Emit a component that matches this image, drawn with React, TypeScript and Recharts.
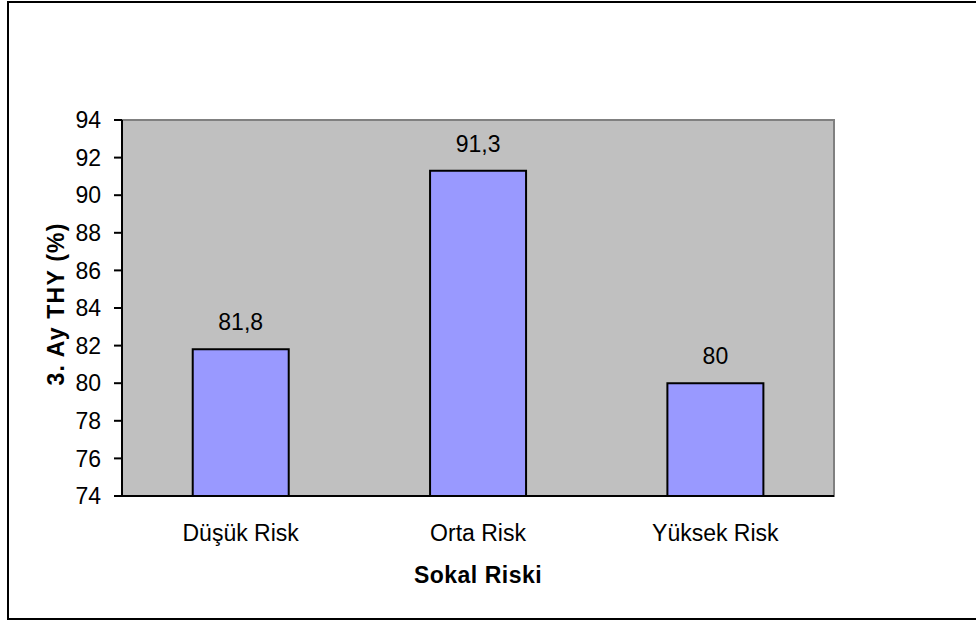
import {
  BarChart, Bar, XAxis, YAxis, ReferenceArea, LabelList,
} from "recharts";

const categories = ["Düşük Risk", "Orta Risk", "Yüksek Risk"];
const values = [81.8, 91.3, 80];
const yTicks = [74, 76, 78, 80, 82, 84, 86, 88, 90, 92, 94];
const edgeTicks = [0, 1, 2, 3];

const data = categories.map((name, i) => ({ name, value: values[i] }));

const font = "Arial, 'Liberation Sans', sans-serif";

export default function App() {
  return (
    <div style={{ position: "absolute", left: 0, top: 0, width: 976, height: 621, overflow: "hidden", background: "#fff" }}>
      <div
        style={{
          position: "absolute", left: 7, top: 1, width: 990, height: 619,
          border: "2px solid #000", boxSizing: "border-box",
        }}
      />
      <BarChart
        width={976}
        height={621}
        data={data}
        margin={{ top: 120, right: 142, left: 0, bottom: 30 }}
        barCategoryGap="29.8%"
        style={{ position: "absolute", left: 0, top: 0, fontFamily: font }}
      >
        <XAxis
          xAxisId="edges"
          type="number"
          domain={[0, 3]}
          ticks={edgeTicks}
          allowDataOverflow
          tick={false}
          axisLine={false}
          tickLine={{ stroke: "#000", strokeWidth: 2 }}
          tickSize={8}
          height={0}
        />
        <XAxis
          dataKey="name"
          tickLine={false}
          axisLine={{ stroke: "#000", strokeWidth: 2 }}
          tick={{ fill: "#000", fontSize: 23, fontFamily: font }}
          tickMargin={23}
          height={95}
          label={{
            value: "Sokal Riski", position: "insideBottom", offset: 8, letterSpacing: 0.5,
            fill: "#000", fontSize: 23, fontWeight: "bold", fontFamily: font,
          }}
        />
        <YAxis
          type="number"
          domain={[74, 94]}
          ticks={yTicks}
          width={122}
          tickSize={8}
          tickMargin={13}
          axisLine={{ stroke: "#000", strokeWidth: 2 }}
          tickLine={{ stroke: "#000", strokeWidth: 2 }}
          tick={{ fill: "#000", fontSize: 23, fontFamily: font }}
          label={{
            value: "3. Ay THY (%)", angle: -90, position: "center", dx: -5, dy: -4, letterSpacing: 1.2,
            fill: "#000", fontSize: 23, fontWeight: "bold", fontFamily: font,
          }}
        />
        <ReferenceArea y1={74} y2={94} fill="#C0C0C0" fillOpacity={1} stroke="#808080" strokeWidth={2} />
        <Bar dataKey="value" fill="#9999FF" stroke="#000" strokeWidth={2} isAnimationActive={false}>
          <LabelList
            dataKey="value"
            position="top"
            offset={19}
            fill="#000"
            fontSize={23}
            fontFamily={font}
            formatter={(v: number) => String(v).replace(".", ",")}
          />
        </Bar>
      </BarChart>
    </div>
  );
}
